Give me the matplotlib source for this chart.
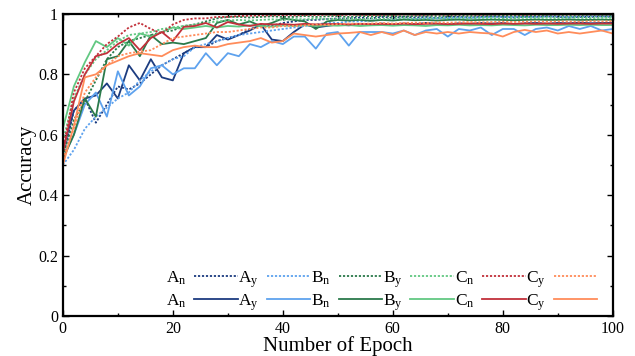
import numpy as np
import matplotlib
matplotlib.use('Agg')
import matplotlib.pyplot as plt
from matplotlib.ticker import MultipleLocator

plt.rcParams['font.family'] = ['Liberation Serif', 'DejaVu Serif']
plt.rcParams['mathtext.fontset'] = 'custom'
plt.rcParams['mathtext.rm'] = 'Liberation Serif'
plt.rcParams['mathtext.it'] = 'Liberation Serif:italic'

# epochs sampled every 2
epochs = list(range(0, 101, 2))

labels = [r'A$_\mathrm{n}$', r'A$_\mathrm{y}$', r'B$_\mathrm{n}$',
          r'B$_\mathrm{y}$', r'C$_\mathrm{n}$', r'C$_\mathrm{y}$']
colors = ['#1c3c80', '#5ea2ee', '#2b7a4b', '#62c882', '#c2303a', '#ff8c5a']

# dotted curves
navy_dot = [0.52, 0.68, 0.72, 0.64, 0.70, 0.76, 0.75, 0.77, 0.80, 0.83, 0.85,
            0.87, 0.89, 0.89, 0.91, 0.92, 0.93, 0.95, 0.96, 0.96, 0.97, 0.975,
            0.98, 0.98, 0.983, 0.985, 0.985, 0.988, 0.985, 0.99, 0.987, 0.99,
            0.988, 0.99, 0.986, 0.99, 0.99, 0.988, 0.99, 0.992, 0.99, 0.988,
            0.99, 0.99, 0.992, 0.99, 0.988, 0.99, 0.99, 0.992, 0.99]
lblue_dot = [0.50, 0.55, 0.62, 0.66, 0.69, 0.72, 0.74, 0.78, 0.81, 0.83, 0.85,
             0.86, 0.89, 0.90, 0.91, 0.92, 0.93, 0.935, 0.94, 0.945, 0.95,
             0.955, 0.96, 0.965, 0.97, 0.97, 0.975, 0.975, 0.978, 0.98, 0.98,
             0.982, 0.983, 0.985, 0.985, 0.986, 0.988, 0.987, 0.988, 0.99,
             0.99, 0.99, 0.991, 0.99, 0.992, 0.992, 0.99, 0.992, 0.993, 0.992,
             0.993]
dgreen_dot = [0.53, 0.65, 0.71, 0.78, 0.85, 0.89, 0.91, 0.92, 0.93, 0.94,
              0.945, 0.96, 0.965, 0.975, 0.985, 0.99, 0.99, 0.988, 0.99, 0.992,
              0.99, 0.99, 0.993, 0.99, 0.992, 0.993, 0.99, 0.993, 0.992, 0.993,
              0.993, 0.992, 0.993, 0.994, 0.993, 0.993, 0.994, 0.993, 0.994,
              0.993, 0.994, 0.994, 0.993, 0.994, 0.994, 0.995, 0.994, 0.994,
              0.995, 0.994, 0.994]
lgreen_dot = [0.58, 0.72, 0.80, 0.85, 0.88, 0.91, 0.93, 0.935, 0.94, 0.95,
              0.955, 0.96, 0.965, 0.97, 0.975, 0.978, 0.98, 0.978, 0.98, 0.982,
              0.98, 0.983, 0.982, 0.984, 0.983, 0.984, 0.985, 0.983, 0.985,
              0.984, 0.985, 0.986, 0.984, 0.985, 0.986, 0.985, 0.986, 0.985,
              0.987, 0.986, 0.985, 0.986, 0.987, 0.986, 0.987, 0.986, 0.987,
              0.987, 0.986, 0.987, 0.987]
red_dot = [0.55, 0.74, 0.82, 0.86, 0.90, 0.925, 0.955, 0.97, 0.95, 0.935,
           0.965, 0.98, 0.985, 0.985, 0.99, 0.99, 0.993, 0.994, 0.995, 0.995,
           0.996, 0.995, 0.996, 0.996, 0.997, 0.996, 0.997, 0.997, 0.996,
           0.997, 0.997, 0.998, 0.997, 0.997, 0.998, 0.997, 0.998, 0.998,
           0.997, 0.998, 0.998, 0.998, 0.997, 0.998, 0.998, 0.998, 0.998,
           0.998, 0.998, 0.998, 0.998]
orange_dot = [0.52, 0.62, 0.74, 0.79, 0.83, 0.86, 0.87, 0.875, 0.88, 0.90,
              0.92, 0.925, 0.93, 0.935, 0.94, 0.94, 0.945, 0.95, 0.955, 0.955,
              0.96, 0.96, 0.962, 0.965, 0.963, 0.966, 0.968, 0.967, 0.968,
              0.97, 0.968, 0.97, 0.971, 0.97, 0.972, 0.971, 0.972, 0.973,
              0.972, 0.973, 0.974, 0.973, 0.974, 0.975, 0.974, 0.975, 0.975,
              0.974, 0.976, 0.975, 0.976]

# solid curves
navy_sol = [0.55, 0.68, 0.72, 0.73, 0.77, 0.72, 0.83, 0.78, 0.85, 0.79, 0.78,
            0.87, 0.89, 0.89, 0.93, 0.915, 0.93, 0.945, 0.965, 0.915, 0.91,
            0.94, 0.965, 0.955, 0.96, 0.965, 0.962, 0.967, 0.965, 0.968,
            0.964, 0.968, 0.966, 0.97, 0.967, 0.965, 0.969, 0.967, 0.97,
            0.968, 0.97, 0.966, 0.969, 0.97, 0.968, 0.97, 0.969, 0.971, 0.969,
            0.97, 0.97]
lblue_sol = [0.52, 0.60, 0.70, 0.74, 0.66, 0.81, 0.73, 0.76, 0.82, 0.83, 0.80,
             0.82, 0.82, 0.87, 0.83, 0.87, 0.86, 0.90, 0.89, 0.91, 0.90,
             0.925, 0.925, 0.885, 0.935, 0.94, 0.895, 0.94, 0.94, 0.94, 0.935,
             0.945, 0.93, 0.945, 0.95, 0.925, 0.95, 0.945, 0.955, 0.93, 0.95,
             0.95, 0.93, 0.95, 0.955, 0.945, 0.96, 0.95, 0.96, 0.945, 0.95]
dgreen_sol = [0.52, 0.60, 0.72, 0.66, 0.85, 0.86, 0.91, 0.86, 0.93, 0.90,
              0.905, 0.90, 0.91, 0.92, 0.97, 0.98, 0.965, 0.975, 0.96, 0.97,
              0.985, 0.98, 0.975, 0.95, 0.975, 0.98, 0.978, 0.98, 0.977,
              0.98, 0.978, 0.981, 0.979, 0.98, 0.978, 0.98, 0.981, 0.979,
              0.98, 0.981, 0.98, 0.979, 0.98, 0.981, 0.98, 0.98, 0.981, 0.98,
              0.98, 0.981, 0.98]
lgreen_sol = [0.62, 0.76, 0.84, 0.91, 0.89, 0.92, 0.895, 0.935, 0.925, 0.94,
              0.955, 0.95, 0.955, 0.96, 0.955, 0.96, 0.958, 0.962, 0.96, 0.958,
              0.962, 0.96, 0.963, 0.96, 0.962, 0.961, 0.963, 0.96, 0.962,
              0.963, 0.961, 0.963, 0.962, 0.96, 0.963, 0.962, 0.964, 0.962,
              0.963, 0.962, 0.964, 0.963, 0.962, 0.964, 0.963, 0.963, 0.964,
              0.963, 0.964, 0.963, 0.963]
red_sol = [0.54, 0.71, 0.80, 0.86, 0.87, 0.90, 0.92, 0.88, 0.92, 0.94, 0.91,
           0.957, 0.96, 0.97, 0.955, 0.973, 0.965, 0.96, 0.967, 0.965, 0.966,
           0.964, 0.967, 0.965, 0.966, 0.967, 0.965, 0.967, 0.966, 0.967,
           0.966, 0.968, 0.966, 0.967, 0.968, 0.966, 0.967, 0.968, 0.967,
           0.966, 0.968, 0.967, 0.968, 0.967, 0.968, 0.967, 0.968, 0.968,
           0.967, 0.968, 0.968]
orange_sol = [0.50, 0.63, 0.79, 0.80, 0.83, 0.845, 0.86, 0.87, 0.865, 0.86,
              0.88, 0.89, 0.895, 0.89, 0.89, 0.90, 0.905, 0.91, 0.92, 0.905,
              0.91, 0.935, 0.93, 0.925, 0.93, 0.935, 0.937, 0.94, 0.93, 0.94,
              0.93, 0.945, 0.93, 0.94, 0.935, 0.94, 0.935, 0.94, 0.937, 0.935,
              0.925, 0.94, 0.947, 0.94, 0.945, 0.935, 0.94, 0.935, 0.94, 0.945,
              0.935]

dotted = [navy_dot, lblue_dot, dgreen_dot, lgreen_dot, red_dot, orange_dot]
solid = [navy_sol, lblue_sol, dgreen_sol, lgreen_sol, red_sol, orange_sol]

fig = plt.figure(figsize=(6.35, 3.56), dpi=100)
ax = fig.add_axes([0.099, 0.112, 0.866, 0.849])

dot_handles = []
sol_handles = []
for col, d, s in zip(colors, dotted, solid):
    h1, = ax.plot(epochs, d, color=col, lw=1.3, ls=(0, (1.2, 1.0)))
    h2, = ax.plot(epochs, s, color=col, lw=1.3)
    dot_handles.append(h1)
    sol_handles.append(h2)

ax.set_xlim(0, 100)
ax.set_ylim(0, 1)
ax.xaxis.set_major_locator(MultipleLocator(20))
ax.xaxis.set_minor_locator(MultipleLocator(10))
ax.yaxis.set_major_locator(MultipleLocator(0.2))
ax.yaxis.set_minor_locator(MultipleLocator(0.1))
ax.yaxis.set_major_formatter(plt.FuncFormatter(lambda v, p: '%g' % round(v, 1)))
ax.tick_params(which='both', direction='in', top=True, right=True,
               labelsize=11.5, width=1.0)
ax.tick_params(which='major', length=4)
ax.tick_params(which='minor', length=2.5)
for sp in ax.spines.values():
    sp.set_linewidth(1.6)

ax.set_xlabel('Number of Epoch', fontsize=15, labelpad=-1)
ax.set_ylabel('Accuracy', fontsize=15, labelpad=1)

# two legend rows, label placed before the line
leg_kw = dict(ncol=6, markerfirst=False, frameon=False, loc='center right',
              fontsize=12.5, handlelength=2.5, handletextpad=0.45,
              columnspacing=0.05, borderpad=0, borderaxespad=0)
leg1 = ax.legend(dot_handles, labels, bbox_to_anchor=(0.972, 0.122), **leg_kw)
ax.add_artist(leg1)
ax.legend(sol_handles, labels, bbox_to_anchor=(0.972, 0.046), **leg_kw)

fig.savefig('out.png', dpi=100)
